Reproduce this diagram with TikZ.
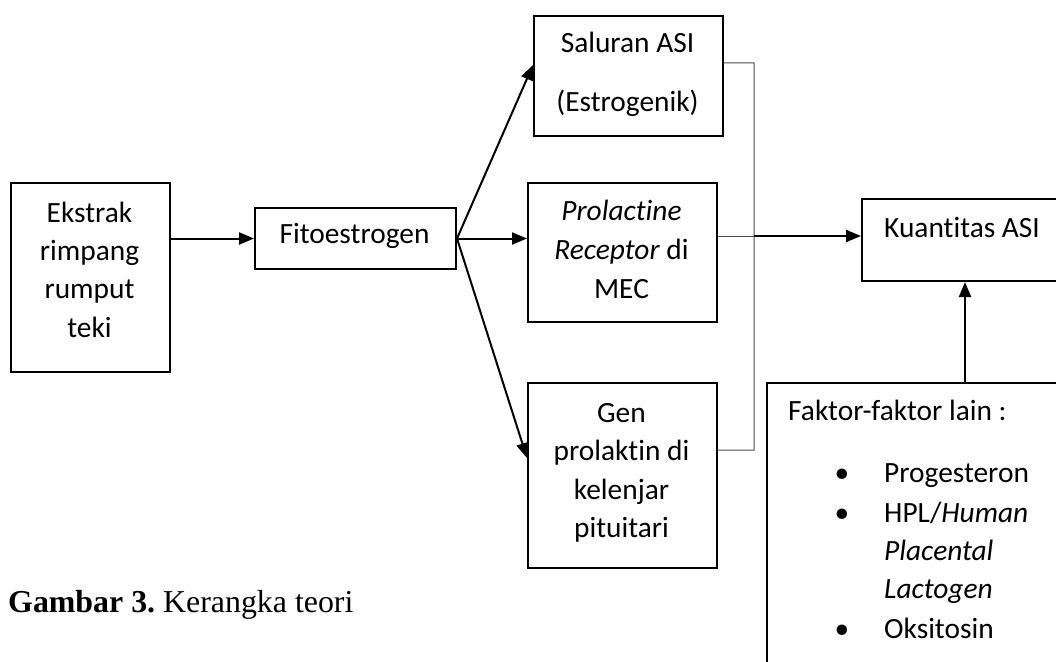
\documentclass[tikz,border=0pt]{standalone}
\usepackage{fontspec}
\setmainfont{Carlito}[Ligatures={NoCommon}]
\newfontfamily\capfont{Liberation Serif}
\usetikzlibrary{arrows.meta}
\frenchspacing
\begin{document}
\begin{tikzpicture}[x=1bp,y=-1bp,
  box/.style={draw=black,line width=2bp,inner sep=0pt,anchor=north west,rectangle},
  lbl/.style={anchor=base,inner sep=0pt,font=\fontsize{29.5}{35}\selectfont},
  lbll/.style={anchor=base west,inner sep=0pt,font=\fontsize{29.5}{35}\selectfont},
  arr/.style={line width=2bp,-{Triangle[length=15bp,width=12bp]}},
  thinline/.style={line width=1bp,draw=black!70}]
\useasboundingbox (0,0) rectangle (1056,662);
\clip (0,0) rectangle (1056,662);
% boxes
\node[box,minimum width=159bp,minimum height=189bp] (ek) at (10,182) {};
\node[box,minimum width=201bp,minimum height=61bp] (fito) at (254,207) {};
\node[box,minimum width=189bp,minimum height=120bp] (sal) at (533,15) {};
\node[box,minimum width=189bp,minimum height=139bp] (prol) at (527,182) {};
\node[box,minimum width=189bp,minimum height=185bp] (gen) at (527,382) {};
\node[box,minimum width=215bp,minimum height=82bp] (kuan) at (861,198) {};
\node[box,minimum width=310bp,minimum height=320bp] (fak) at (766,382) {};
% texts
\node[lbl] (t1) at (89.5,222) {Ekstrak};
\node[lbl] (t2) at (89.5,260) {rimpang};
\node[lbl] (t3) at (89.5,298) {rumput};
\node[lbl] (t4) at (89.5,337) {teki};
\node[lbl] (t5) at (354.5,243) {Fitoestrogen};
\node[lbl] (t6) at (627.5,53) {Saluran ASI};
\node[lbl] (t7) at (627.5,112) {(Estrogenik)};
\node[lbl] (t8) at (621.5,220) {\itshape Prolactine};
\node[lbl] (t9) at (621.5,259) {\textit{Receptor} di};
\node[lbl] (t10) at (621.5,298) {MEC};
\node[lbl] (t11) at (621.5,422) {Gen};
\node[lbl] (t12) at (621.5,460) {prolaktin di};
\node[lbl] (t13) at (621.5,499) {kelenjar};
\node[lbl] (t14) at (621.5,537) {pituitari};
\node[lbll] (t15) at (884,237) {Kuantitas ASI};
\node[lbll] (t16) at (788,420) {Faktor-faktor lain :};
\node[lbl] (b1) at (842,482) {\textbullet};
\node[lbl] (b2) at (842,522) {\textbullet};
\node[lbl] (b3) at (842,638) {\textbullet};
\node[lbll] (t17) at (884,482) {Progesteron};
\node[lbll] (t18) at (884,522) {HPL/\textit{Human}};
\node[lbll] (t19) at (884,560) {\itshape Placental};
\node[lbll] (t20) at (884,598) {\itshape Lactogen};
\node[lbll] (t21) at (884,638) {Oksitosin};
\node[anchor=base west,inner sep=0pt,font=\capfont\fontsize{32}{38}\selectfont] (cap) at (8,612) {\textbf{Gambar 3.} Kerangka teori};
% junction coordinates
\coordinate (jt) at (754,63);
\coordinate (jm) at (754,236);
\coordinate (jb) at (754,450);
% connectors
\draw[arr] (fito.west -| ek.east) -- (fito.west);
\draw[arr] (fito.east) -- ([yshift=-50bp]sal.north west);
\draw[arr] (fito.east) -- (fito.east -| prol.west);
\draw[arr] (fito.east) -- ([yshift=-76bp]gen.north west);
\draw[thinline] ([yshift=-48bp]sal.north east) -- (jt) -- (jb) -- ([yshift=-68bp]gen.north east);
\draw[thinline] (prol.east |- jm) -- (jm);
\draw[arr] (jm) -- (jm -| kuan.west);
\draw[arr] ([xshift=199bp]fak.north west) -- ([xshift=199bp]fak.north west |- kuan.south);
\end{tikzpicture}
\end{document}
